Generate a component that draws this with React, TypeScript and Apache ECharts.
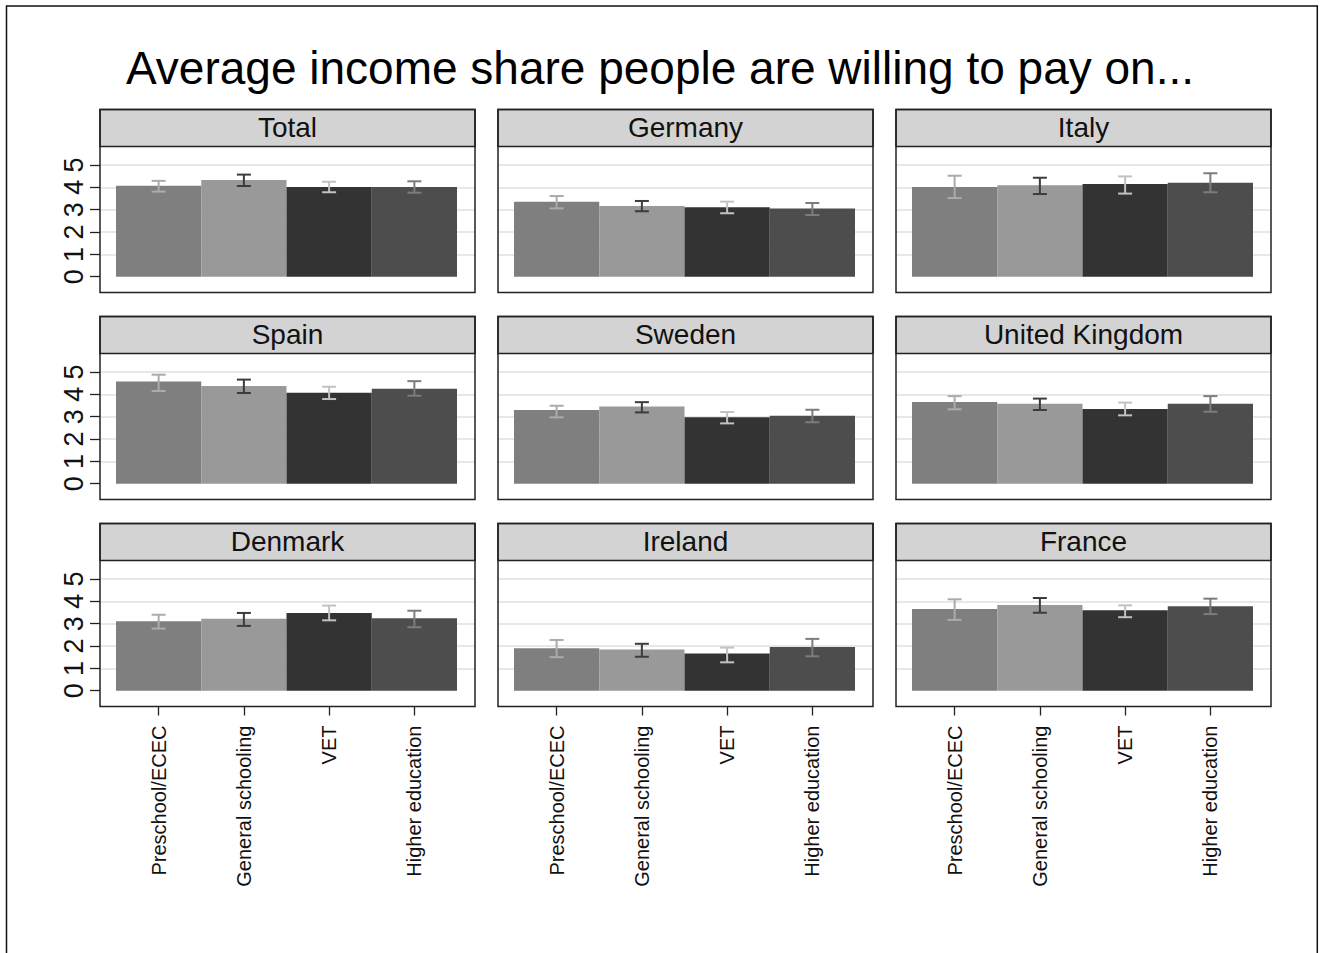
import React, { useEffect, useRef } from "react";
import * as echarts from "echarts";

const titleText = "Average income share people are willing to pay on...";
const categories = ["Preschool/ECEC", "General schooling", "VET", "Higher education"];
const panelNames = ["Total", "Germany", "Italy", "Spain", "Sweden", "United Kingdom", "Denmark", "Ireland", "France"];
const yTicks = [0, 1, 2, 3, 4, 5];

const meanValues = [
  [4.07, 4.33, 4.02, 4.02],
  [3.35, 3.17, 3.11, 3.05],
  [4.02, 4.09, 4.15, 4.21],
  [4.57, 4.37, 4.07, 4.25],
  [3.3, 3.46, 2.98, 3.04],
  [3.66, 3.58, 3.34, 3.58],
  [3.11, 3.22, 3.48, 3.24],
  [1.9, 1.84, 1.66, 1.96],
  [3.66, 3.84, 3.6, 3.78],
];
const lowValues = [
  [3.81, 4.06, 3.78, 3.76],
  [3.06, 2.93, 2.84, 2.76],
  [3.52, 3.7, 3.72, 3.78],
  [4.15, 4.06, 3.79, 3.94],
  [2.97, 3.19, 2.7, 2.75],
  [3.33, 3.3, 3.06, 3.22],
  [2.78, 2.9, 3.15, 2.84],
  [1.5, 1.52, 1.27, 1.54],
  [3.17, 3.49, 3.29, 3.43],
];
const highValues = [
  [4.29, 4.57, 4.25, 4.27],
  [3.61, 3.39, 3.36, 3.3],
  [4.52, 4.43, 4.49, 4.63],
  [4.88, 4.66, 4.34, 4.59],
  [3.49, 3.65, 3.21, 3.31],
  [3.92, 3.81, 3.63, 3.92],
  [3.4, 3.48, 3.81, 3.58],
  [2.27, 2.1, 1.93, 2.32],
  [4.09, 4.15, 3.82, 4.12],
];

const barColors = ["#7f7f7f", "#999999", "#333333", "#4d4d4d"];
const errColors = ["#ababab", "#3c3c3c", "#c2c2c2", "#7c7c7c"];

const FONT = "'Liberation Sans', Arial, Helvetica, sans-serif";

export default function App() {
  const ref = useRef<HTMLDivElement>(null);

  useEffect(() => {
    if (!ref.current) return;
    const chart = echarts.init(ref.current, null, { renderer: "svg" });

    const colLeft = [100, 498, 896];
    const rowTop = [109.5, 316.5, 523.5];
    const boxW = 375;
    const headerH = 37;
    const boxH = 183;
    const fiveOff = 55.5;
    const zeroOff = 167.2;
    const padL = 16;
    const innerW = 341;

    const grids: any[] = [];
    const xAxes: any[] = [];
    const yAxes: any[] = [];
    const series: any[] = [];
    const graphics: any[] = [];

    graphics.push({
      type: "rect",
      shape: { x: 6.5, y: 6, width: 1310.8, height: 960 },
      style: { fill: "none", stroke: "#111", lineWidth: 1.5 },
      z: 10,
    });
    graphics.push({
      type: "text",
      x: 660,
      y: 68,
      style: {
        text: titleText,
        font: `46px ${FONT}`,
        fill: "#000",
        textAlign: "center",
        textVerticalAlign: "middle",
      },
    });

    panelNames.forEach((name, p) => {
      const r = Math.floor(p / 3);
      const c = p % 3;
      const L = colLeft[c];
      const T = rowTop[r];
      const gTop = T + fiveOff;
      const gH = zeroOff - fiveOff;

      // grid A: full box width, for gridlines and y ticks
      grids.push({ left: L, top: gTop, width: boxW, height: gH });
      // grid B: bars
      grids.push({ left: L + padL, top: gTop, width: innerW, height: gH });

      const ga = 2 * p;
      const gb = 2 * p + 1;

      xAxes.push({ gridIndex: ga, type: "value", min: 0, max: 1, show: false });
      yAxes.push({
        gridIndex: ga,
        type: "value",
        min: yTicks[0],
        max: yTicks[yTicks.length - 1],
        interval: 1,
        axisLine: { show: false, onZero: false },
        axisTick: { show: c === 0, length: 10, lineStyle: { color: "#222", width: 1.3 } },
        axisLabel: {
          show: c === 0,
          rotate: 90,
          fontSize: 27,
          fontFamily: FONT,
          color: "#111",
          margin: 13,
        },
        splitLine: { show: true, showMinLine: false, lineStyle: { color: "#e0e0e0", width: 1.6 } },
      });

      xAxes.push({
        gridIndex: gb,
        type: "category",
        data: categories,
        boundaryGap: true,
        offset: boxH - zeroOff,
        axisLine: { show: false, onZero: false },
        axisTick: { show: r === 2, alignWithLabel: true, length: 9, lineStyle: { color: "#222", width: 1.3 } },
        axisLabel: {
          show: r === 2,
          interval: 0,
          rotate: 90,
          fontSize: 20,
          fontFamily: FONT,
          color: "#111",
          margin: 19,
        },
        splitLine: { show: false },
      });
      yAxes.push({ gridIndex: gb, type: "value", min: 0, max: 5, show: false });

      series.push({
        type: "bar",
        xAxisIndex: gb,
        yAxisIndex: gb,
        barCategoryGap: "0%",
        data: meanValues[p].map((v, i) => ({ value: v, itemStyle: { color: barColors[i] } })),
        z: 2,
      });
      series.push({
        type: "custom",
        xAxisIndex: gb,
        yAxisIndex: gb,
        z: 3,
        data: categories.map((_, i) => [i, lowValues[p][i], highValues[p][i]]),
        renderItem: (params: any, api: any) => {
          const idx = params.dataIndex;
          const lo = api.coord([api.value(0), api.value(1)]);
          const hi = api.coord([api.value(0), api.value(2)]);
          const hw = 7;
          const style = { stroke: errColors[idx], lineWidth: 2 };
          return {
            type: "group",
            children: [
              { type: "line", shape: { x1: lo[0], y1: lo[1], x2: hi[0], y2: hi[1] }, style },
              { type: "line", shape: { x1: hi[0] - hw, y1: hi[1], x2: hi[0] + hw, y2: hi[1] }, style },
              { type: "line", shape: { x1: lo[0] - hw, y1: lo[1], x2: lo[0] + hw, y2: lo[1] }, style },
            ],
          };
        },
      });

      // header strip
      graphics.push({
        type: "rect",
        shape: { x: L, y: T, width: boxW, height: headerH },
        style: { fill: "#d3d3d3", stroke: "#222", lineWidth: 1.5 },
        z: 5,
      });
      graphics.push({
        type: "text",
        x: L + boxW / 2,
        y: T + 18.3,
        style: {
          text: name,
          font: `28px ${FONT}`,
          fill: "#111",
          textAlign: "center",
          textVerticalAlign: "middle",
        },
        z: 6,
      });
      // panel box
      graphics.push({
        type: "rect",
        shape: { x: L, y: T, width: boxW, height: boxH },
        style: { fill: "none", stroke: "#222", lineWidth: 1.5 },
        z: 5,
      });
    });

    chart.setOption({
      animation: false,
      backgroundColor: "#ffffff",
      grid: grids,
      xAxis: xAxes,
      yAxis: yAxes,
      series,
      graphic: graphics,
    });

    return () => {
      chart.dispose();
    };
  }, []);

  return (
    <div
      ref={ref}
      style={{ position: "fixed", left: 0, top: 0, width: 1320, height: 953, background: "#fff" }}
    />
  );
}
